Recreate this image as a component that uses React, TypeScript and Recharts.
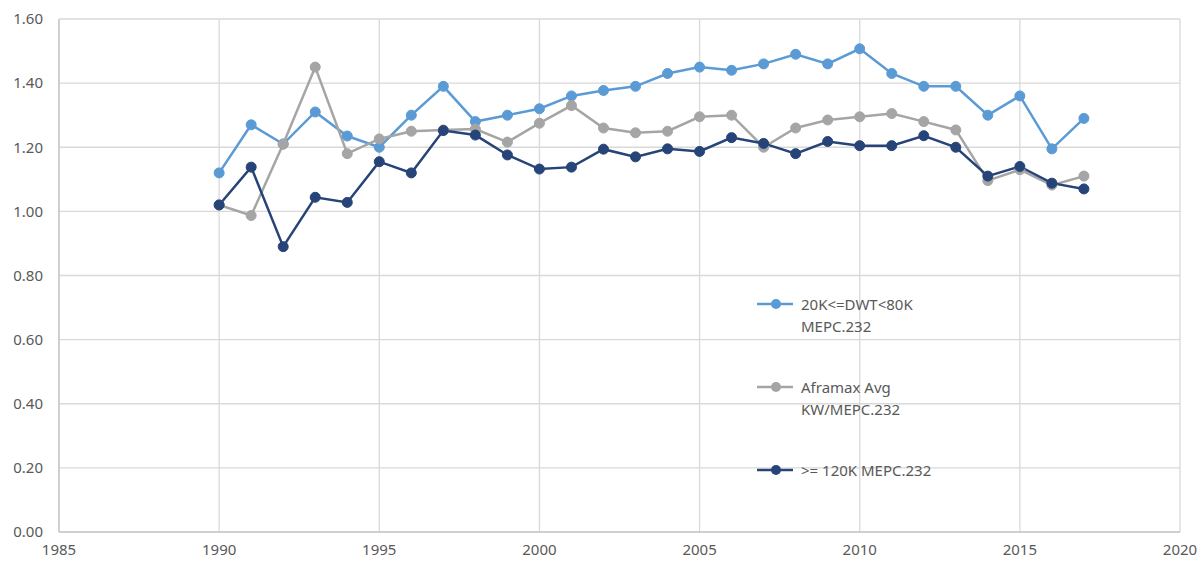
import { LineChart, Line, XAxis, YAxis, CartesianGrid } from 'recharts';

const years = [
  1990, 1991, 1992, 1993, 1994, 1995, 1996, 1997, 1998, 1999, 2000, 2001, 2002, 2003,
  2004, 2005, 2006, 2007, 2008, 2009, 2010, 2011, 2012, 2013, 2014, 2015, 2016, 2017,
];

const dwt20to80 = [
  1.12, 1.27, 1.21, 1.31, 1.235, 1.2, 1.3, 1.39, 1.28, 1.3, 1.32, 1.36, 1.377, 1.39,
  1.43, 1.45, 1.44, 1.46, 1.49, 1.46, 1.507, 1.43, 1.39, 1.39, 1.3, 1.36, 1.195, 1.29,
];

const aframax = [
  1.02, 0.987, 1.21, 1.45, 1.18, 1.226, 1.25, 1.254, 1.257, 1.216, 1.275, 1.33, 1.26, 1.245,
  1.25, 1.295, 1.3, 1.2, 1.26, 1.285, 1.295, 1.305, 1.28, 1.254, 1.096, 1.13, 1.082, 1.11,
];

const over120 = [
  1.02, 1.138, 0.89, 1.044, 1.028, 1.155, 1.12, 1.252, 1.238, 1.176, 1.132, 1.138, 1.194, 1.17,
  1.195, 1.187, 1.23, 1.212, 1.18, 1.218, 1.205, 1.205, 1.236, 1.2, 1.11, 1.14, 1.088, 1.07,
];

const xTicks = [1985, 1990, 1995, 2000, 2005, 2010, 2015, 2020];
const yTicks = [0, 0.2, 0.4, 0.6, 0.8, 1.0, 1.2, 1.4, 1.6];

const data = years.map((year, i) => ({
  year,
  dwt: dwt20to80[i],
  afra: aframax[i],
  big: over120[i],
}));

const series = [
  { key: 'dwt', color: '#5B9BD5', lines: ['20K<=DWT<80K', 'MEPC.232'] },
  { key: 'afra', color: '#A5A5A5', lines: ['Aframax Avg', 'KW/MEPC.232'] },
  { key: 'big', color: '#264478', lines: ['>= 120K MEPC.232'] },
];

const FONT = '"Noto Sans", sans-serif';
const TEXT = '#595959';

// legend sits inside the plot area, like the Excel original
function LegendBox() {
  const tops = [0, 83, 166];
  return (
    <div style={{ position: 'absolute', left: 757, top: 293, width: 220, height: 200, fontFamily: FONT, fontSize: 15, color: TEXT }}>
      {series.map((s, i) => (
        <div key={s.key} style={{ position: 'absolute', left: 0, top: tops[i] }}>
          <svg width={36} height={14} style={{ position: 'absolute', left: 0, top: 4 }}>
            <line x1={0} y1={7} x2={36} y2={7} stroke={s.color} strokeWidth={2.5} />
            <circle cx={19} cy={7} r={5} fill={s.color} />
          </svg>
          <div style={{ position: 'absolute', left: 44, top: 0, lineHeight: '22px', whiteSpace: 'nowrap' }}>
            {s.lines.map((l) => (
              <div key={l}>{l}</div>
            ))}
          </div>
        </div>
      ))}
    </div>
  );
}

export default function App() {
  return (
    <div style={{ position: 'absolute', left: 0, top: 0, width: 1203, height: 562, background: '#fff' }}>
      <LineChart width={1203} height={562} data={data} margin={{ top: 19, right: 23, bottom: 0, left: 0 }}>
        <CartesianGrid stroke="#D9D9D9" strokeWidth={1.3} />
        <XAxis
          dataKey="year"
          type="number"
          domain={[1985, 2020]}
          ticks={xTicks}
          height={30}
          tickLine={false}
          tickMargin={6}
          axisLine={{ stroke: '#C8C8C8', strokeWidth: 1.5 }}
          tick={{ fill: TEXT, fontSize: 15, fontFamily: FONT }}
        />
        <YAxis
          type="number"
          domain={[0, 1.6]}
          ticks={yTicks}
          width={59}
          tickLine={false}
          tickMargin={10}
          axisLine={{ stroke: '#C8C8C8', strokeWidth: 1.5 }}
          tickFormatter={(v: number) => v.toFixed(2)}
          tick={{ fill: TEXT, fontSize: 15, fontFamily: FONT }}
        />
        {series.map((s) => (
          <Line
            key={s.key}
            dataKey={s.key}
            stroke={s.color}
            strokeWidth={2.5}
            dot={{ r: 5, fill: s.color, stroke: s.color, strokeWidth: 1 }}
            activeDot={false}
            isAnimationActive={false}
          />
        ))}
      </LineChart>
      <LegendBox />
    </div>
  );
}
